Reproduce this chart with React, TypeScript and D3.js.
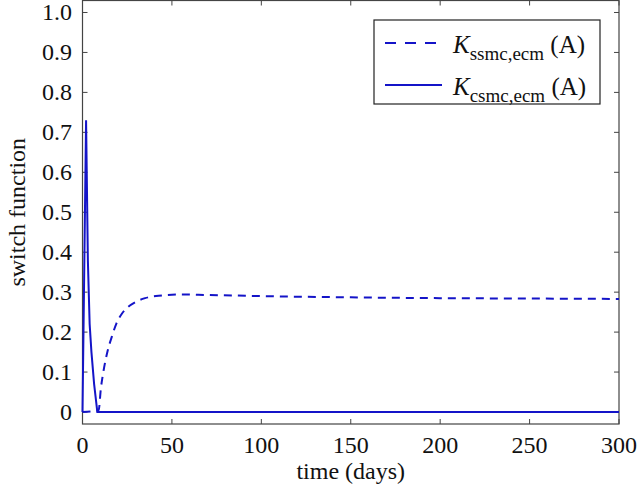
import React, { useEffect, useRef } from "react";
import * as d3 from "d3";

const csmcTime = [0, 2, 3, 4, 5, 6.5, 8.3, 300];
const csmcValue = [0, 0.73, 0.38, 0.22, 0.15, 0.07, 0, 0];
const ssmcTime = [0, 9, 10.3, 11.8, 14, 16.5, 19, 22, 25.5, 29.5, 35, 42.6, 55, 70, 100, 150, 200, 250, 300];
const ssmcValue = [0, 0.004, 0.06, 0.104, 0.152, 0.19, 0.222, 0.246, 0.263, 0.275, 0.285, 0.291, 0.294, 0.293, 0.29, 0.287, 0.285, 0.284, 0.283];
const xTicks = [0, 50, 100, 150, 200, 250, 300];
const yTicks = [0, 0.1, 0.2, 0.3, 0.4, 0.5, 0.6, 0.7, 0.8, 0.9, 1.0];

const W = 638;
const H = 487;
const blue = "#1414c8";
const axisCol = "#444";
const font = "Liberation Serif, DejaVu Serif, serif";

export default function App() {
  const svgRef = useRef<SVGSVGElement>(null);

  useEffect(() => {
    const svg = d3.select(svgRef.current);
    svg.selectAll("*").remove();

    const left = 82.5, right = 619, top = 0.5, bottom = 424;
    const x = d3.scaleLinear().domain([0, 300]).range([left, right]);
    const y = d3.scaleLinear().domain([-0.03, 1.03]).range([bottom, top]);

    const g = svg.append("g").style("font-family", font);

    // frame
    g.append("rect")
      .attr("x", left).attr("y", top)
      .attr("width", right - left).attr("height", bottom - top)
      .attr("fill", "none").attr("stroke", axisCol).attr("stroke-width", 1.2);

    // ticks (inward, all four sides)
    const tk = 5;
    xTicks.forEach(t => {
      g.append("line").attr("x1", x(t)).attr("x2", x(t)).attr("y1", bottom).attr("y2", bottom - tk)
        .attr("stroke", axisCol);
      g.append("line").attr("x1", x(t)).attr("x2", x(t)).attr("y1", top).attr("y2", top + tk)
        .attr("stroke", axisCol);
      g.append("text").attr("x", x(t)).attr("y", 453)
        .attr("text-anchor", "middle").attr("font-size", 24)
        .attr("fill", "#111").text(t);
    });
    yTicks.forEach(t => {
      g.append("line").attr("x1", left).attr("x2", left + tk).attr("y1", y(t)).attr("y2", y(t))
        .attr("stroke", axisCol);
      g.append("line").attr("x1", right).attr("x2", right - tk).attr("y1", y(t)).attr("y2", y(t))
        .attr("stroke", axisCol);
      g.append("text").attr("x", 72).attr("y", y(t)).attr("dy", "0.33em")
        .attr("text-anchor", "end").attr("font-size", 24)
        .attr("fill", "#111").text(t === 0 ? "0" : d3.format(".1f")(t));
    });

    // axis titles
    g.append("text").attr("x", (left + right) / 2).attr("y", 479)
      .attr("text-anchor", "middle").attr("font-size", 24)
      .attr("fill", "#111").text("time (days)");
    g.append("text").attr("transform", `translate(25, ${(top + bottom) / 2}) rotate(-90)`)
      .attr("text-anchor", "middle").attr("font-size", 24)
      .attr("fill", "#111").text("switch function");

    const ssmc = ssmcTime.map((t, i) => [t, ssmcValue[i]] as [number, number]);
    const csmc = csmcTime.map((t, i) => [t, csmcValue[i]] as [number, number]);
    const line = d3.line<[number, number]>().x(d => x(d[0])).y(d => y(d[1]));

    g.append("path").attr("d", line.curve(d3.curveMonotoneX)(ssmc)).attr("fill", "none").attr("stroke", blue)
      .attr("stroke-width", 2).attr("stroke-dasharray", "8,6");
    g.append("path").attr("d", line.curve(d3.curveLinear)(csmc)).attr("fill", "none").attr("stroke", blue)
      .attr("stroke-width", 2);

    // legend
    const lg = g.append("g");
    lg.append("rect").attr("x", 374).attr("y", 20).attr("width", 226).attr("height", 84)
      .attr("fill", "white").attr("stroke", "#222").attr("stroke-width", 1.2);
    const entries = [
      { sub: "ssmc,ecm", dash: "11,9", yy: 43 },
      { sub: "csmc,ecm", dash: null, yy: 85 },
    ];
    entries.forEach(e => {
      const l = lg.append("line").attr("x1", 385).attr("x2", 442).attr("y1", e.yy).attr("y2", e.yy)
        .attr("stroke", blue).attr("stroke-width", 2.2);
      if (e.dash) l.attr("stroke-dasharray", e.dash);
      const t = lg.append("text").attr("x", 453).attr("y", e.yy + 10)
        .attr("font-size", 25).attr("fill", "#111");
      t.append("tspan").attr("font-style", "italic").text("K");
      t.append("tspan").attr("font-size", 19).attr("dy", 7).text(e.sub);
      t.append("tspan").attr("dy", -7).text(" (A)");
    });
  }, []);

  return <svg ref={svgRef} width={W} height={H} style={{ display: "block", position: "absolute", left: 0, top: 0 }} />;
}
